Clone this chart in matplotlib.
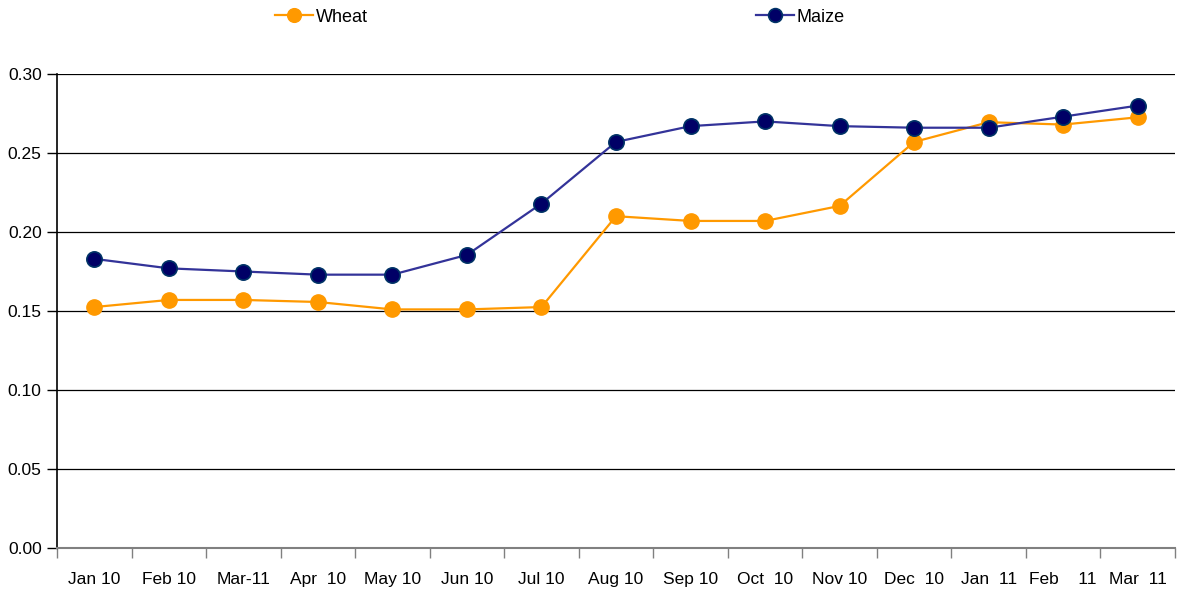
import numpy as np
from matplotlib import pyplot as plt
from matplotlib.ticker import FormatStrFormatter

months = ['Jan 10', 'Feb 10', 'Mar-11', 'Apr  10', 'May 10', 'Jun 10', 'Jul 10', 'Aug 10',
          'Sep 10', 'Oct  10', 'Nov 10', 'Dec  10', 'Jan  11', 'Feb    11', 'Mar  11']
wheat = [0.1525, 0.157, 0.157, 0.1557, 0.151, 0.151, 0.1525, 0.210,
         0.207, 0.207, 0.2165, 0.257, 0.2695, 0.268, 0.2726]
maize = [0.183, 0.177, 0.175, 0.173, 0.173, 0.1855, 0.218, 0.257,
         0.267, 0.270, 0.267, 0.266, 0.266, 0.273, 0.280]

plt.rcParams['font.family'] = ['Liberation Sans', 'DejaVu Sans']

fig = plt.figure(figsize=(11.77, 5.93), dpi=100)
ax = fig.add_axes([57 / 1177, 45 / 593, 1118 / 1177, 474 / 593])

x = np.arange(len(months))
ax.plot(x, wheat, color='#FF9900', lw=1.6, marker='o', markersize=11,
        markerfacecolor='#FF9900', markeredgecolor='#FF9900', label='Wheat', zorder=3)
ax.plot(x, maize, color='#333399', lw=1.6, marker='o', markersize=11,
        markerfacecolor='#000066', markeredgecolor='#003366', markeredgewidth=1.2,
        label='Maize', zorder=4)

ax.set_xlim(-0.5, len(months) - 0.5)
ax.set_ylim(0, 0.30)
ax.set_yticks(np.arange(0, 0.301, 0.05))
ax.yaxis.set_major_formatter(FormatStrFormatter('%.2f'))
ax.yaxis.grid(True, color='black', lw=0.9)
ax.set_axisbelow(True)

# ticks on the category boundaries, labels in the middle
ax.set_xticks(np.arange(-0.5, len(months), 1.0))
ax.set_xticklabels([])
ax.set_xticks(x, minor=True)
ax.set_xticklabels(months, minor=True)
ax.tick_params(axis='x', which='major', length=7, color='#808080', width=1)
ax.tick_params(axis='x', which='minor', length=0, pad=17, labelsize=12.5)
ax.tick_params(axis='y', length=7, width=1, pad=4, labelsize=12.5)

ax.spines['top'].set_visible(False)
ax.spines['right'].set_visible(False)
ax.spines['bottom'].set_color('#808080')
ax.spines['bottom'].set_linewidth(1.5)
ax.spines['left'].set_linewidth(1.2)

fig.legend(loc='center', bbox_to_anchor=(0.476, 0.971), ncol=2, frameon=False,
           fontsize=13, handlelength=2.1, handletextpad=0.15, columnspacing=21.5,
           markerscale=0.9)

plt.savefig('out.png', dpi=100)
